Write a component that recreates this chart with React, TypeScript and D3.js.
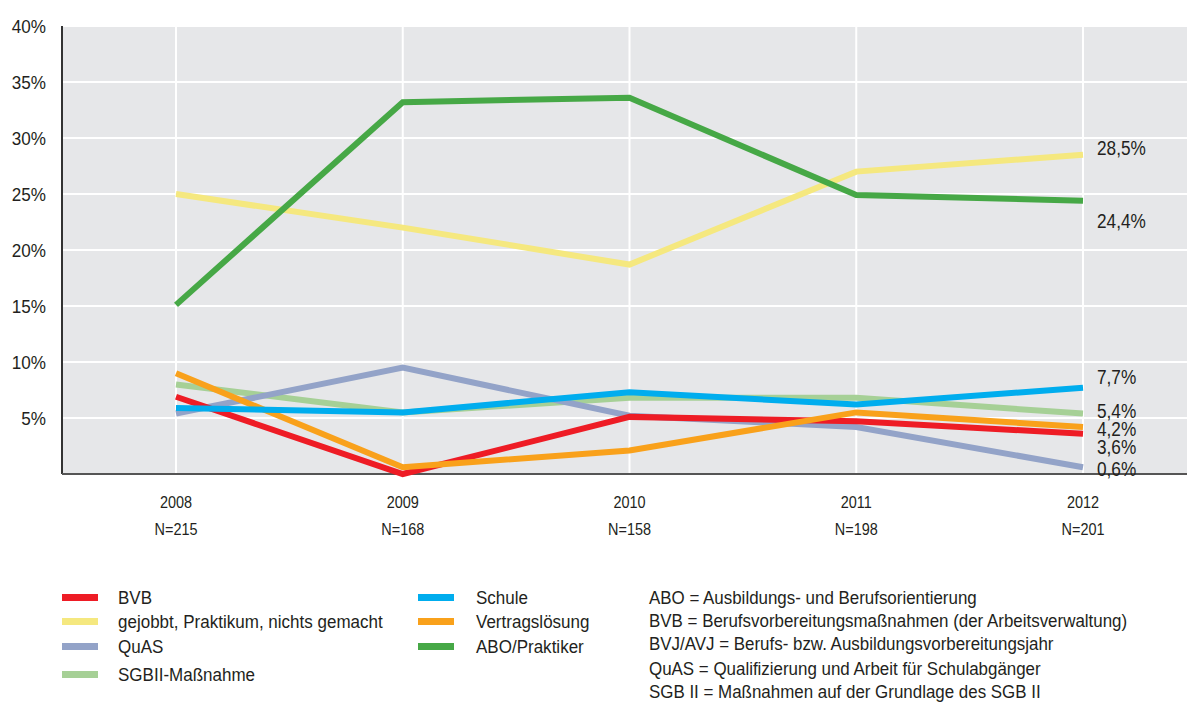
import React from "react";
import * as d3 from "d3";

// Anteil der Jugendlichen nach Verbleib, 2008–2012
const years = [2008, 2009, 2010, 2011, 2012];
const sampleSizes = ["N=215", "N=168", "N=158", "N=198", "N=201"];
const yTicks = [5, 10, 15, 20, 25, 30, 35, 40];

const bvb = [6.9, 0.0, 5.1, 4.7, 3.6];
const gejobbt = [25.0, 22.0, 18.7, 27.0, 28.5];
const quas = [5.4, 9.5, 5.2, 4.2, 0.6];
const sgb = [8.0, 5.5, 6.8, 6.8, 5.4];
const schule = [5.9, 5.5, 7.3, 6.2, 7.7];
const vertrag = [9.0, 0.6, 2.1, 5.5, 4.2];
const abo = [15.1, 33.2, 33.6, 24.9, 24.4];

type Series = { name: string; values: number[]; color: string; labelDy?: number };

const series: Series[] = [
  { name: "SGBII-Maßnahme", values: sgb, color: "#a6d096", labelDy: 4.5 },
  { name: "QuAS", values: quas, color: "#93a3c8", labelDy: 8.5 },
  { name: "BVB", values: bvb, color: "#ee1c25", labelDy: 20 },
  { name: "Vertragslösung", values: vertrag, color: "#f9a11b", labelDy: 9 },
  { name: "Schule", values: schule, color: "#00adee", labelDy: -4 },
  { name: "gejobbt, Praktikum, nichts gemacht", values: gejobbt, color: "#f5e87f", labelDy: 0 },
  { name: "ABO/Praktiker", values: abo, color: "#46a846", labelDy: 27 },
];

const legendLeft = ["BVB", "gejobbt, Praktikum, nichts gemacht", "QuAS", "SGBII-Maßnahme"];
const legendRight = ["Schule", "Vertragslösung", "ABO/Praktiker"];
const notes = [
  "ABO = Ausbildungs- und Berufsorientierung",
  "BVB = Berufsvorbereitungsmaßnahmen (der Arbeitsverwaltung)",
  "BVJ/AVJ = Berufs- bzw. Ausbildungsvorbereitungsjahr",
  "QuAS = Qualifizierung und Arbeit für Schulabgänger",
  "SGB II = Maßnahmen auf der Grundlage des SGB II",
];

const W = 1187;
const H = 702;
const plot = { left: 62, right: 1187, top: 26, bottom: 474 };
const font = "'Liberation Sans', Arial, sans-serif";
const textColor = "#231f20";

const fmt = (v: number) => `${v.toFixed(1).replace(".", ",")}%`;

// Condensed text: a regular sans squeezed horizontally around its anchor point
function CText({
  x,
  y,
  size,
  squeeze = 0.85,
  anchor = "start",
  dy,
  children,
}: {
  x: number;
  y: number;
  size: number;
  squeeze?: number;
  anchor?: "start" | "middle" | "end";
  dy?: string;
  children: React.ReactNode;
}) {
  return (
    <g transform={`translate(${x},${y}) scale(${squeeze},1)`}>
      <text x={0} y={0} dy={dy} fontSize={size} textAnchor={anchor} fill={textColor}>
        {children}
      </text>
    </g>
  );
}

export default function App() {
  const x = d3.scaleLinear().domain([2008, 2012]).range([176, 1083]);
  const y = d3.scaleLinear().domain([0, 40]).range([plot.bottom, plot.top]);
  const line = d3
    .line<number>()
    .x((_, i) => x(years[i]))
    .y((v) => y(v));
  const colorOf = (n: string) => series.find((s) => s.name === n)!.color;
  const legendRowsL = [597, 621, 646, 674];
  const legendRowsR = [597, 621, 646];
  const noteRows = [597, 620, 643, 668, 691];

  return (
    <svg
      width={W}
      height={H}
      style={{ position: "absolute", left: 0, top: 0, background: "#fff" }}
      fontFamily={font}
    >
      <rect
        x={plot.left}
        y={plot.top}
        width={plot.right - plot.left}
        height={plot.bottom - plot.top}
        fill="#e6e7e9"
      />
      {yTicks.map((t) => (
        <line key={t} x1={plot.left} x2={plot.right} y1={y(t)} y2={y(t)} stroke="#fff" strokeWidth={2} />
      ))}
      {years.map((yr) => (
        <line key={yr} x1={x(yr)} x2={x(yr)} y1={plot.top} y2={plot.bottom} stroke="#fff" strokeWidth={2} />
      ))}
      <line x1={plot.left} x2={plot.left} y1={plot.top} y2={plot.bottom} stroke="#333" strokeWidth={2} />
      <line x1={plot.left} x2={plot.right} y1={plot.bottom} y2={plot.bottom} stroke="#555" strokeWidth={2} />

      {yTicks.map((t) => (
        <CText key={t} x={46} y={y(t)} dy="0.36em" anchor="end" size={19} squeeze={0.9}>
          {t}%
        </CText>
      ))}

      {years.map((yr, i) => (
        <g key={yr}>
          <CText x={x(yr)} y={508} anchor="middle" size={17}>
            {yr}
          </CText>
          <CText x={x(yr)} y={535} anchor="middle" size={17}>
            {sampleSizes[i]}
          </CText>
        </g>
      ))}

      {series.map((s) => (
        <path
          key={s.name}
          d={line(s.values) || ""}
          fill="none"
          stroke={s.color}
          strokeWidth={6}
          strokeLinejoin="miter"
          strokeLinecap="butt"
        />
      ))}

      {series.map((s) => {
        const last = s.values[s.values.length - 1];
        return (
          <CText key={s.name} x={1097} y={y(last) + (s.labelDy || 0)} size={20.5} squeeze={0.84}>
            {fmt(last)}
          </CText>
        );
      })}

      {legendLeft.map((n, i) => (
        <g key={n}>
          <rect x={62} y={legendRowsL[i] - 3} width={36} height={7} fill={colorOf(n)} />
          <CText x={118} y={legendRowsL[i]} dy="0.36em" size={18.5} squeeze={0.92}>
            {n}
          </CText>
        </g>
      ))}
      {legendRight.map((n, i) => (
        <g key={n}>
          <rect x={418} y={legendRowsR[i] - 3} width={36} height={7} fill={colorOf(n)} />
          <CText x={476} y={legendRowsR[i]} dy="0.36em" size={18.5} squeeze={0.92}>
            {n}
          </CText>
        </g>
      ))}
      {notes.map((n, i) => (
        <CText key={n} x={649} y={noteRows[i]} dy="0.36em" size={18.5} squeeze={0.915}>
          {n}
        </CText>
      ))}
    </svg>
  );
}
